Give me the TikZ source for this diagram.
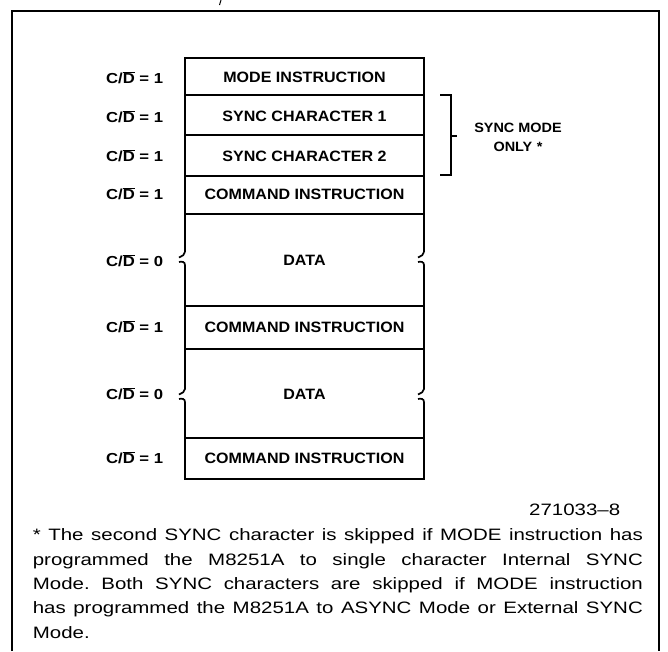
\documentclass[tikz,border=0pt]{standalone}
\usepackage{fontspec}
\setmainfont{Liberation Sans}
\newfontfamily\lblfont[FakeStretch=1.07]{Liberation Sans}
\newfontfamily\cdfont[FakeStretch=1.15]{Liberation Sans}
\newfontfamily\notefont[FakeStretch=1.24]{Liberation Sans}
\begin{document}
\begin{tikzpicture}[x=1pt,y=-1pt,line width=1.7pt,line join=miter,
  lbl/.style={font=\lblfont\bfseries\fontsize{15}{16}\selectfont,inner sep=0},
  cdlbl/.style={font=\cdfont\bfseries\fontsize{14.5}{16}\selectfont,anchor=east,inner sep=0},
  notetext/.style={font=\notefont\fontsize{16.5}{24.3}\selectfont,inner sep=0},
  framestyle/.style={line width=1.5pt}]
\useasboundingbox (0,0) rectangle (668,651);
% outer frame (open at the bottom)
\draw[framestyle] (12,651) -- (12,11) -- (659,11) -- (659,651);
\draw[line width=1pt] (219.5,5) -- (221,0);
% row separators
\foreach \y in {95,135,176,214,306,349,438}
  \draw (185,\y) -- (424,\y);
% outline with breaks at the DATA rows
\draw (185,252) -- (185,58) -- (424,58) -- (424,252);
\foreach \x in {185,424} {
  \draw (\x,252) .. controls (\x,255) and (\x-3,256) .. (\x-6,257.5);
  \draw (\x-6,262) .. controls (\x-3,261) and (\x,262) .. (\x,265) -- (\x,389)
        .. controls (\x,392) and (\x-3,393) .. (\x-6,394.5);
  \draw (\x-6,399) .. controls (\x-3,398) and (\x,399) .. (\x,402);
}
\draw (185,402) -- (185,479) -- (424,479) -- (424,402);
% row texts
\node[lbl] (mode)  at (304.5,77)  {MODE INSTRUCTION};
\node[lbl] (sync1) at (304.5,116) {SYNC CHARACTER 1};
\node[lbl] (sync2) at (304.5,156) {SYNC CHARACTER 2};
\node[lbl] (cmd1)  at (304.5,194) {COMMAND INSTRUCTION};
\node[lbl] (data1) at (304.5,260) {DATA};
\node[lbl] (cmd2)  at (304.5,327) {COMMAND INSTRUCTION};
\node[lbl] (data2) at (304.5,394) {DATA};
\node[lbl] (cmd3)  at (304.5,458) {COMMAND INSTRUCTION};
% C/D labels
\node[cdlbl] (cd1) at (164,78)  {C/$\overline{\hbox{D}}$ = 1};
\node[cdlbl] (cd2) at (164,117) {C/$\overline{\hbox{D}}$ = 1};
\node[cdlbl] (cd3) at (164,156) {C/$\overline{\hbox{D}}$ = 1};
\node[cdlbl] (cd4) at (164,194) {C/$\overline{\hbox{D}}$ = 1};
\node[cdlbl] (cd5) at (164,261) {C/$\overline{\hbox{D}}$ = 0};
\node[cdlbl] (cd6) at (164,327) {C/$\overline{\hbox{D}}$ = 1};
\node[cdlbl] (cd7) at (164,394) {C/$\overline{\hbox{D}}$ = 0};
\node[cdlbl] (cd8) at (164,458) {C/$\overline{\hbox{D}}$ = 1};
% bracket
\draw[line width=1.4pt] (440,95) -- (451,95) -- (451,175) -- (440,175);
\draw[line width=1.4pt] (451,136) -- (457,136);
\node[lbl,font=\lblfont\bfseries\fontsize{13.5}{19}\selectfont,align=center] (syncnote) at (518,137) {SYNC MODE\\ONLY\,\,*};
% figure id and footnote
\node[notetext,anchor=east] (figid) at (621,510) {271033\textendash 8};
\node[notetext,anchor=north west,text width=610pt,align=justify] (note) at (32,528)
 {\frenchspacing\hyphenpenalty=10000 * The second SYNC character is skipped if MODE instruction has\linebreak
  programmed the M8251A to single character Internal SYNC\linebreak
  Mode. Both SYNC characters are skipped if MODE instruction\linebreak
  has programmed the M8251A to ASYNC Mode or External SYNC\linebreak
  Mode.};
\end{tikzpicture}
\end{document}
